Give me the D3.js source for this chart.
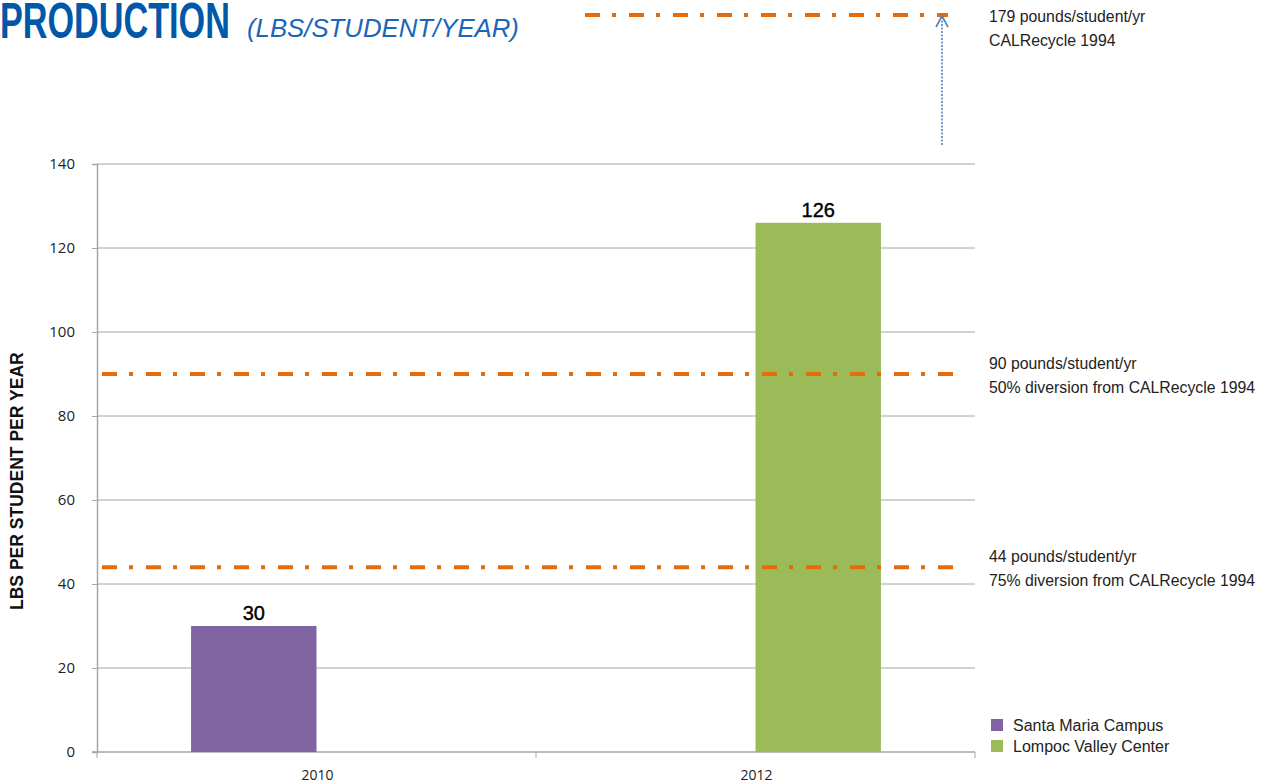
<!DOCTYPE html>
<html>
<head>
<meta charset="utf-8">
<script src="https://cdn.jsdelivr.net/npm/d3@7"></script>
<style>
  html, body { margin: 0; padding: 0; background: #fff; }
  svg { display: block; }
</style>
</head>
<body>
<svg id="chart" width="1274" height="784"></svg>
<script>
// Years on the category axis
const categories = ["2010", "2012"];
// Campus series; null where a campus has no measurement for that year
const seriesNames = ["Santa Maria Campus", "Lompoc Valley Center"];
const santaMariaValues = [30, null];
const lompocValues = [null, 126];
const seriesColors = ["#8064A2", "#9BBB59"];
// Y-axis ticks
const yTicks = [0, 20, 40, 60, 80, 100, 120, 140];
// Reference levels drawn as dash-dot lines inside the plot
const refValues = [90, 44];
const refLabels = [
  ["90 pounds/student/yr", "50% diversion from CALRecycle 1994"],
  ["44 pounds/student/yr", "75% diversion from CALRecycle 1994"]
];
// Off-scale reference shown above the plot with an arrow
const topRefLabel = ["179 pounds/student/yr", "CALRecycle 1994"];

const svg = d3.select("#chart");
const plot = { left: 97, right: 975, top: 164, bottom: 752 };

const x = d3.scaleBand().domain(categories).range([plot.left, plot.right]).padding(0);
const xSub = d3.scaleBand().domain(seriesNames).range([0, x.bandwidth()])
  .paddingInner(0).paddingOuter(0.75);
const y = d3.scaleLinear().domain([0, 140]).range([plot.bottom, plot.top]);

const gridColor = "#A6A6A6";
const orange = "#E46C0A";
const refDash = "15,12,4,13";
const sansFont = "'Liberation Sans', Arial, sans-serif";

// Draw a horizontally condensed text: natural-width text squeezed to a target width
function condensedText(parent, str, px, py, targetWidth, attrs) {
  const g = parent.append("g");
  const t = g.append("text").text(str);
  Object.entries(attrs).forEach(([k, v]) => t.attr(k, v));
  const w = t.node().getComputedTextLength();
  g.attr("transform", `translate(${px},${py}) scale(${targetWidth / w},1)`);
  return g;
}

// Title
condensedText(svg, "PRODUCTION", 0, 38, 230, {
  "font-family": sansFont, "font-weight": "bold", "font-size": 50, "fill": "#0058A8"
});
condensedText(svg, "(LBS/STUDENT/YEAR)", 247, 37, 272, {
  "font-family": sansFont, "font-style": "italic", "font-size": 26, "fill": "#1A66B8"
});

// Horizontal gridlines
svg.append("g")
  .selectAll("line")
  .data(yTicks.filter(d => d > 0))
  .join("line")
  .attr("x1", plot.left).attr("x2", plot.right)
  .attr("y1", d => y(d)).attr("y2", d => y(d))
  .attr("stroke", gridColor).attr("stroke-width", 1);

// Y axis
const yAxis = svg.append("g")
  .attr("transform", `translate(${plot.left},0)`)
  .call(d3.axisLeft(y).tickValues(yTicks).tickSize(5).tickPadding(17));
yAxis.select(".domain").attr("stroke", gridColor).attr("stroke-width", 1.5);
yAxis.selectAll(".tick line").attr("stroke", gridColor);
yAxis.selectAll(".tick text")
  .attr("font-family", "'Open Sans', sans-serif").attr("font-size", 15)
  .attr("fill", "#222");

// X axis with ticks at band edges
const xAxis = svg.append("g")
  .attr("transform", `translate(0,${plot.bottom})`);
xAxis.append("line")
  .attr("x1", plot.left - 5).attr("x2", plot.right)
  .attr("stroke", gridColor).attr("stroke-width", 1.5);
const edges = categories.map(c => x(c)).concat([x(categories[categories.length - 1]) + x.bandwidth()]);
xAxis.selectAll("line.edge")
  .data(edges)
  .join("line").attr("class", "edge")
  .attr("x1", d => d).attr("x2", d => d)
  .attr("y1", 0).attr("y2", 6)
  .attr("stroke", gridColor).attr("stroke-width", 1);
xAxis.selectAll("text")
  .data(categories)
  .join("text")
  .attr("x", d => x(d) + x.bandwidth() / 2 + 1)
  .attr("y", 28)
  .attr("text-anchor", "middle")
  .attr("font-family", "'Open Sans', sans-serif").attr("font-size", 14)
  .attr("fill", "#222")
  .text(d => d);

// Y axis title (rotated, condensed)
const yTitle = svg.append("g")
  .attr("transform", `translate(23,${(plot.top + plot.bottom) / 2 + 23}) rotate(-90)`);
condensedText(yTitle, "LBS PER STUDENT PER YEAR", -129, 0, 258, {
  "font-family": sansFont, "font-weight": "bold", "font-size": 19, "fill": "#111"
});

// Bars
const seriesValues = [santaMariaValues, lompocValues];
const barData = [];
seriesNames.forEach((s, si) => {
  categories.forEach((c, ci) => {
    const v = seriesValues[si][ci];
    if (v != null) barData.push({ series: s, cat: c, value: v, color: seriesColors[si] });
  });
});
svg.append("g")
  .selectAll("rect")
  .data(barData)
  .join("rect")
  .attr("x", d => x(d.cat) + xSub(d.series))
  .attr("width", xSub.bandwidth())
  .attr("y", d => y(d.value))
  .attr("height", d => y(0) - y(d.value))
  .attr("fill", d => d.color);

// Value labels
svg.append("g")
  .selectAll("text")
  .data(barData)
  .join("text")
  .attr("x", d => x(d.cat) + xSub(d.series) + xSub.bandwidth() / 2)
  .attr("y", d => y(d.value) - 6)
  .attr("text-anchor", "middle")
  .attr("font-family", sansFont)
  .attr("font-size", 20)
  .attr("stroke", "#000").attr("stroke-width", 0.4)
  .attr("fill", "#000")
  .text(d => d.value);

// Two-line note beside a reference level
const noteRatio = 0.93;
function note(lines, px, baseline) {
  lines.forEach((str, j) => {
    const g = svg.append("g");
    const t = g.append("text").text(str)
      .attr("font-family", sansFont).attr("font-size", 17).attr("fill", "#222");
    g.attr("transform", `translate(${px},${baseline + j * 24}) scale(${noteRatio},1)`);
  });
}

// Reference lines within the plot
const refG = svg.append("g");
refValues.forEach((v, i) => {
  refG.append("line")
    .attr("x1", plot.left + 5).attr("x2", plot.right - 20)
    .attr("y1", y(v)).attr("y2", y(v))
    .attr("stroke", orange).attr("stroke-width", 4)
    .attr("stroke-dasharray", refDash);
  note(refLabels[i], 989, y(v) - 5);
});

// Off-scale reference above the plot, with an upward arrow
const topY = 15;
const arrowX = 942;
refG.append("line")
  .attr("x1", 585).attr("x2", 948)
  .attr("y1", topY).attr("y2", topY)
  .attr("stroke", orange).attr("stroke-width", 4)
  .attr("stroke-dasharray", refDash);
refG.append("line")
  .attr("x1", arrowX).attr("x2", arrowX)
  .attr("y1", plot.top - 19).attr("y2", topY + 2)
  .attr("stroke", "#4F81BD").attr("stroke-width", 1.6)
  .attr("stroke-dasharray", "2,1.5");
refG.append("path")
  .attr("d", `M${arrowX - 6},${topY + 12} L${arrowX},${topY + 1} L${arrowX + 6},${topY + 12}`)
  .attr("fill", "none").attr("stroke", "#4F81BD").attr("stroke-width", 1.6);
note(topRefLabel, 989, 22);

// Legend
const legend = svg.append("g").attr("transform", "translate(991,719)");
const li = legend.selectAll("g")
  .data(seriesNames)
  .join("g")
  .attr("transform", (d, i) => `translate(0,${i * 21})`);
li.append("rect")
  .attr("width", 12).attr("height", 12)
  .attr("fill", (d, i) => seriesColors[i]);
li.append("text")
  .attr("x", 22).attr("y", 12)
  .attr("font-family", sansFont)
  .attr("font-size", 16).attr("fill", "#222")
  .text(d => d);
</script>
</body>
</html>
